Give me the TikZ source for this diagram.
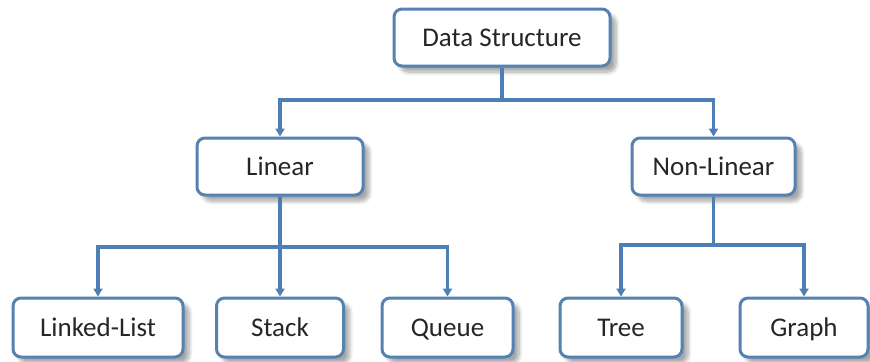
\documentclass[tikz,border=0pt]{standalone}
\usepackage{fontspec}
\setmainfont{Carlito}
\usepackage{tikz}
\usetikzlibrary{arrows.meta,shadows.blur}
\definecolor{boxline}{HTML}{5582B0}
\definecolor{linkline}{HTML}{4D7FB6}
\definecolor{boxtext}{HTML}{262626}

\begin{document}
\begin{tikzpicture}[x=0.5pt,y=-0.5pt,
            box/.style={draw=boxline, line width=1.5pt, rounded corners=4pt, fill=white,
                text=boxtext, font=\fontsize{13.5}{16}\selectfont, inner sep=0pt,
                text height=10.4pt, text depth=1.2pt,
                blur shadow={shadow xshift=3pt, shadow yshift=-3pt, shadow blur steps=8, shadow opacity=35}},
            link/.style={draw=linkline, line width=1.6pt},
            arr/.style={link, -{Triangle[width=4.5pt,length=4pt]}}]
            \useasboundingbox (0,0) rectangle (870,361);
            % top level
            \node [box, minimum width=108pt, minimum height=28.5pt] (ds) at (502,37.5) {Data Structure};
            % second level
            \node [box, minimum width=83pt, minimum height=28.5pt] (lin) at (280,166.5) {Linear};
            \node [box, minimum width=81.5pt, minimum height=28.5pt] (nonlin) at (713.5,166.5) {Non-Linear};
            % leaves
            \node [box, minimum width=85pt, minimum height=29.5pt] (ll) at (98,327.5) {Linked-List};
            \node [box, minimum width=63.5pt, minimum height=29.5pt] (st) at (280,327.5) {Stack};
            \node [box, minimum width=65.5pt, minimum height=29.5pt] (qu) at (447.5,327.5) {Queue};
            \node [box, minimum width=61pt, minimum height=29.5pt] (tr) at (621,327.5) {Tree};
            \node [box, minimum width=64pt, minimum height=29.5pt] (gr) at (804,327.5) {Graph};
            % junctions
            \coordinate (dsj) at (502,100);
            \coordinate (linj) at (280,247);
            \coordinate (nonlinj) at (713.5,245);
            \draw [link] (ds.south) -- (dsj);
            \draw [arr] (dsj) -| (lin.north);
            \draw [arr] (dsj) -| (nonlin.north);
            \draw [link] (lin.south) -- (linj);
            \draw [arr] (linj) -| (ll.north);
            \draw [arr] (linj) -- (st.north);
            \draw [arr] (linj) -| (qu.north);
            \draw [link] (nonlin.south) -- (nonlinj);
            \draw [arr] (nonlinj) -| (tr.north);
            \draw [arr] (nonlinj) -| (gr.north);
\end{tikzpicture}
\end{document}
